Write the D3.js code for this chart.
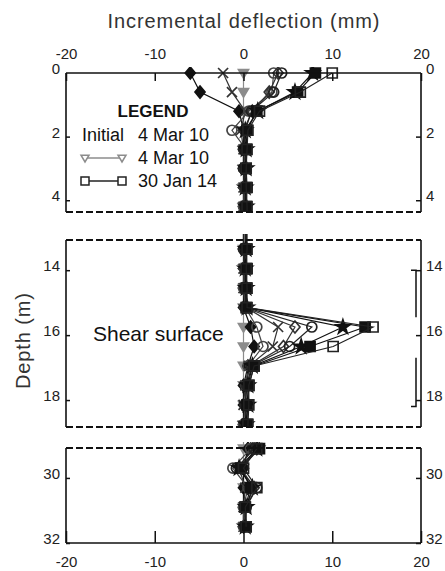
<!DOCTYPE html>
<html>
<head>
<meta charset="utf-8">
<script src="https://cdn.jsdelivr.net/npm/d3@7"></script>
<style>
  body { margin: 0; background: #fff; }
  text { font-family: "Liberation Sans", Arial, sans-serif; }
</style>
</head>
<body>
<svg id="chart" width="445" height="571"></svg>
<script>
// depth of each reading (m): top panel, shear zone panel, bottom panel
const depths = [0, 0.6, 1.2, 1.8, 2.4, 3.0, 3.6, 4.2,
  13.35, 13.95, 14.55, 15.15, 15.75, 16.35, 16.95, 17.55, 18.15, 18.75,
  29.1, 29.7, 30.3, 30.9, 31.5]

// incremental deflection (mm) of each survey, same order as depths
const s4Mar10 = [0, 0, 0, 0, 0, 0, 0, 0,
  0, 0, 0, 0, 0, 0, 0, 0, 0, 0,
  0, 0, 0, 0, 0]
const surveyA = [-6, -4.9, -0.5, 0, 0, 0, 0, 0,
  0, 0, 0, 0, 0.8, 1.2, 0.5, 0, 0, 0,
  0.5, 0, 0, 0, 0]
const surveyB = [-2.3, -1.3, 0.2, -0.3, 0, 0.2, 0, 0,
  0.2, 0, 0, 0.3, 3.9, 3.3, 0.6, 0.2, 0, 0.3,
  1, -0.5, 0.2, 0, 0]
const surveyC = [3.4, 3.2, 0.6, -1.3, 0.3, 0, 0.2, 0,
  0, 0.2, 0, 0.2, 1.5, 2.2, 0.5, 0.3, 0.2, 0,
  0.8, -1.2, 0.5, 0, 0]
const surveyD = [3.9, 2.9, 1, 0, 0.2, 0.2, 0, 0.2,
  0.2, 0, 0.2, 0.2, 5.8, 4.5, 0.8, 0.2, 0.3, 0.2,
  1.5, -0.3, 1.2, 0.2, 0]
const surveyE = [4.3, 3.4, 0.9, 0.2, 0, 0, 0.3, 0.2,
  0, 0.3, 0.2, 0.3, 7.7, 5.2, 0.9, 0.4, 0.2, 0.3,
  1.2, -0.8, 1.5, 0.3, 0.2]
const surveyF = [7.8, 5.8, 1.6, 0.2, 0.3, 0.3, 0.2, 0.3,
  0.3, 0.2, 0.3, 0.4, 11.2, 6.5, 1, 0.5, 0.5, 0.3,
  1.5, -0.5, 1, 0.3, 0.2]
const surveyG = [8.1, 6.1, 1.5, 0.4, 0.3, 0.3, 0.4, 0.3,
  0.3, 0.4, 0.3, 0.3, 13.7, 7.5, 1.2, 0.6, 0.4, 0.4,
  1.8, -0.3, 0.8, 0.2, 0.3]
const s30Jan14 = [10, 6.4, 1.8, 0.5, 0.4, 0.3, 0.3, 0.4,
  0.4, 0.3, 0.4, 0.4, 14.6, 10.1, 1.2, 0.6, 0.6, 0.5,
  1.5, 0, 1.5, 0.2, 0.3]

const xTicks = [-20, -10, 0, 10, 20]
const depthTicks = [[0, 2, 4], [14, 16, 18], [30, 32]]
const depthDomains = [[0, 4.37], [13.07, 18.83], [29.08, 32]]
const sensorRanges = [[14.0, 15.45], [16.7, 18.2]]

const series = [
  { values: s4Mar10, marker: 'triDown', color: '#8c8c8c', fill: '#8c8c8c' },
  { values: surveyA, marker: 'diamond', color: '#111', fill: '#111' },
  { values: surveyB, marker: 'cross', color: '#333', fill: 'none' },
  { values: surveyC, marker: 'circle', color: '#444', fill: 'none' },
  { values: surveyD, marker: 'diamond', color: '#333', fill: 'none' },
  { values: surveyE, marker: 'circle', color: '#222', fill: 'none' },
  { values: surveyF, marker: 'star', color: '#111', fill: '#111' },
  { values: surveyG, marker: 'square', color: '#111', fill: '#111' },
  { values: s30Jan14, marker: 'square', color: '#222', fill: 'none' }
]

const panels = [
  { range: [73, 212], top: 'solid', bottom: 'dashed' },
  { range: [240, 427], top: 'dashed', bottom: 'dashed' },
  { range: [448, 543], top: 'dashed', bottom: 'solid' }
]

const markerPath = (type, r) => {
  switch (type) {
    case 'triDown': return `M${-r},${-r * 0.7}L${r},${-r * 0.7}L0,${r}Z`
    case 'triUp': return `M${-r},${r * 0.7}L${r},${r * 0.7}L0,${-r}Z`
    case 'square': return `M${-r},${-r}H${r}V${r}H${-r}Z`
    case 'diamond': return `M0,${-r * 1.2}L${r},0L0,${r * 1.2}L${-r},0Z`
    case 'circle': return `M${r},0A${r},${r} 0 1,1 ${-r},0A${r},${r} 0 1,1 ${r},0`
    case 'cross': return `M${-r},${-r}L${r},${r}M${r},${-r}L${-r},${r}`
    case 'star': return d3.symbol(d3.symbolStar, r * r * 2.4)()
  }
}

const fmt = d => String(d)
const svg = d3.select('#chart')
const x = d3.scaleLinear().domain([-20, 20]).range([66, 421])
const left = x(-20)
const right = x(20)

const styleAxis = a => {
  a.select('.domain').remove()
  a.selectAll('line').attr('stroke', '#111').attr('stroke-width', 1.5)
  a.selectAll('text').attr('font-size', 15)
    .attr('font-family', '"Liberation Sans", Arial, sans-serif').attr('fill', '#222')
}

panels.forEach((p, i) => {
  const y = d3.scaleLinear().domain(depthDomains[i]).range(p.range)
  const g = svg.append('g')

  svg.append('clipPath').attr('id', 'clip' + i)
    .append('rect')
    .attr('x', left).attr('y', p.range[0] - 6)
    .attr('width', right - left).attr('height', p.range[1] - p.range[0] + 6)

  const plot = g.append('g').attr('clip-path', `url(#clip${i})`)
  const line = d3.line().x(d => x(d.v)).y(d => y(d.d))

  series.forEach(s => {
    const pts = depths.map((d, k) => ({ d, v: s.values[k] }))
    plot.append('path')
      .attr('d', line(pts))
      .attr('fill', 'none')
      .attr('stroke', s.color)
      .attr('stroke-width', 1.2)
    plot.selectAll(null)
      .data(pts.filter(d => d.d >= depthDomains[i][0] && d.d <= depthDomains[i][1]))
      .enter()
      .append('path')
      .attr('transform', d => `translate(${x(d.v)},${y(d.d)})`)
      .attr('d', markerPath(s.marker, 5))
      .attr('fill', s.fill)
      .attr('stroke', s.color)
      .attr('stroke-width', 1.7)
  })

  // frame: solid sides, solid or dashed top/bottom
  g.append('line').attr('x1', left).attr('x2', left)
    .attr('y1', p.range[0]).attr('y2', p.range[1])
    .attr('stroke', '#111').attr('stroke-width', 1.6)
  g.append('line').attr('x1', right).attr('x2', right)
    .attr('y1', p.range[0]).attr('y2', p.range[1])
    .attr('stroke', '#111').attr('stroke-width', 1.6)
  ;[[p.range[0], p.top], [p.range[1], p.bottom]].forEach(([yy, kind]) => {
    g.append('line').attr('x1', left).attr('x2', right)
      .attr('y1', yy).attr('y2', yy)
      .attr('stroke', '#111')
      .attr('stroke-width', kind === 'dashed' ? 2 : 1.6)
      .attr('stroke-dasharray', kind === 'dashed' ? '7,3' : null)
  })

  const yl = g.append('g').attr('transform', `translate(${left},0)`)
    .call(d3.axisLeft(y).tickValues(depthTicks[i]).tickFormat(fmt).tickSize(-4).tickPadding(6))
  const yr = g.append('g').attr('transform', `translate(${right},0)`)
    .call(d3.axisRight(y).tickValues(depthTicks[i]).tickFormat(fmt).tickSize(-5).tickPadding(5))
  ;[yl, yr].forEach(a => {
    styleAxis(a)
    a.selectAll('text').attr('dy', '0.05em')
    a.selectAll('.tick').filter(d => d === 0).select('line').remove()
  })

  if (i === 0) {
    const xt = g.append('g').attr('transform', `translate(0,${p.range[0]})`)
      .call(d3.axisTop(x).tickValues(xTicks).tickFormat(fmt).tickSize(-8).tickPadding(14))
    styleAxis(xt)
  }
  if (i === 2) {
    const xb = g.append('g').attr('transform', `translate(0,${p.range[1]})`)
      .call(d3.axisBottom(x).tickValues(xTicks).tickFormat(fmt).tickSize(-12).tickPadding(13))
    styleAxis(xb)
  }
  if (i === 1) {
    const [a, b] = sensorRanges
    g.append('path')
      .attr('d', `M${right - 10},${y(a[0])}H${right - 5}V${y(a[1])}M${right - 5},${y(b[0])}V${y(b[1])}H${right - 10}`)
      .attr('fill', 'none').attr('stroke', '#111').attr('stroke-width', 1.5)
    g.append('text').attr('x', 93).attr('y', y(16) + 6)
      .attr('font-size', 21).attr('fill', '#111').text('Shear surface')
  }
})

// titles
svg.append('text').attr('x', x(0)).attr('y', 28)
  .attr('text-anchor', 'middle').attr('font-size', 20).attr('fill', '#333')
  .attr('textLength', 272).text('Incremental deflection (mm)')
svg.append('text').attr('transform', 'translate(30,341) rotate(-90)')
  .attr('text-anchor', 'middle').attr('font-size', 20).attr('fill', '#333')
  .attr('textLength', 96).text('Depth (m)')

// legend
const lg = svg.append('g')
lg.append('text').attr('x', 153).attr('y', 117).attr('text-anchor', 'middle')
  .attr('font-size', 17).attr('font-weight', 'bold').attr('fill', '#111').text('LEGEND')
lg.append('text').attr('x', 82).attr('y', 141).attr('font-size', 18).attr('fill', '#111').text('Initial')
const legendRows = [
  { y: 141, label: '4 Mar 10', s: null },
  { y: 164, label: '4 Mar 10', s: series[0] },
  { y: 187, label: '30 Jan 14', s: series[series.length - 1] }
]
legendRows.forEach(r => {
  lg.append('text').attr('x', 138).attr('y', r.y).attr('font-size', 18).attr('fill', '#111').text(r.label)
  if (!r.s) return
  const ly = r.y - 6
  lg.append('line').attr('x1', 85).attr('x2', 122).attr('y1', ly).attr('y2', ly)
    .attr('stroke', r.s.color).attr('stroke-width', 1.5)
  ;[85, 122].forEach(mx => {
    lg.append('path').attr('transform', `translate(${mx},${ly})`)
      .attr('d', markerPath(r.s.marker, 4))
      .attr('fill', '#fff').attr('stroke', r.s.color).attr('stroke-width', 1.5)
  })
})
</script>
</body>
</html>
